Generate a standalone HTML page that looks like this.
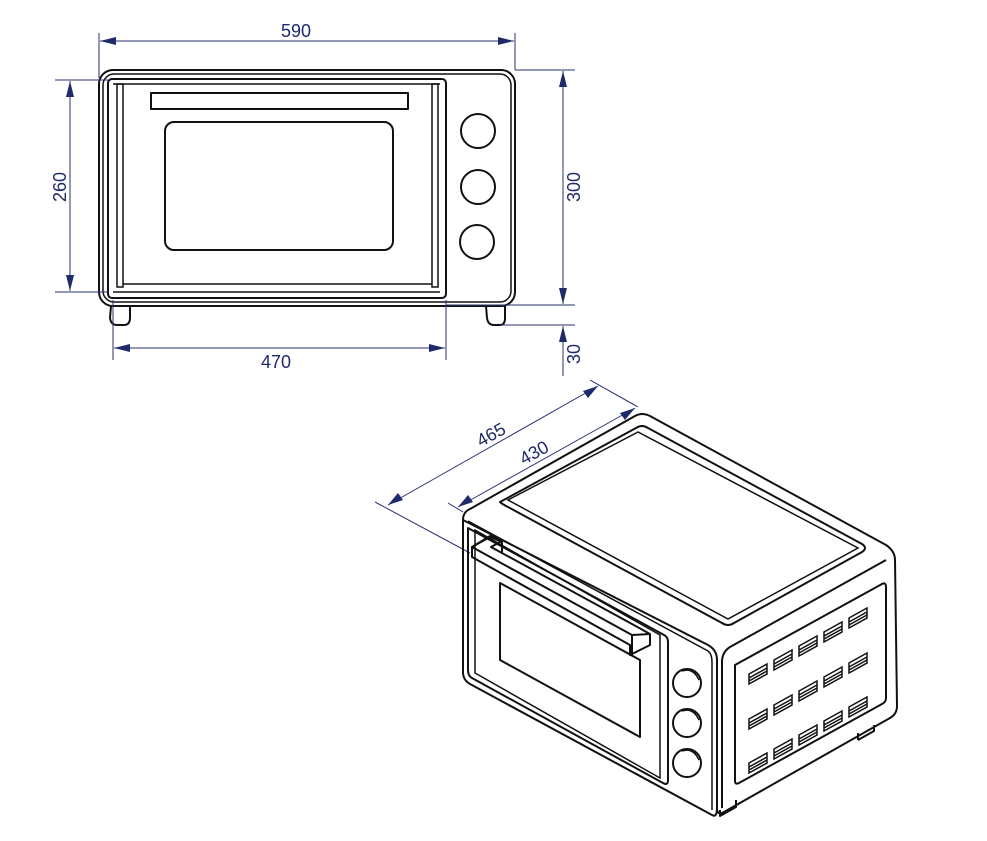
<!DOCTYPE html>
<html><head><meta charset="utf-8"><style>
html,body{margin:0;padding:0;background:#fff;}
svg{display:block;}
text{font-family:"Liberation Sans",sans-serif;font-size:18px;fill:#1f2a6b;}
.k{fill:none;stroke:#111;stroke-width:2;stroke-linejoin:round;}
.t{fill:none;stroke:#111;stroke-width:1.5;}
.d{fill:none;stroke:#2a3270;stroke-width:1;}
.a{fill:#1f2a6b;}
</style></head><body>
<svg width="987" height="841" viewBox="0 0 987 841" xmlns="http://www.w3.org/2000/svg">
<defs>
<g id="v" class="t"><path d="M0 10 L18 0 L18 10 L0 20 Z M0 14 L18 4 M0 17 L18 7"/></g>
</defs>
<!-- FRONT VIEW -->
<rect class="k" x="99" y="70" width="416" height="236" rx="14"/>
<rect class="t" x="103" y="74" width="408" height="228" rx="11"/>
<rect class="k" x="108" y="79" width="338" height="219" rx="4"/>
<line class="t" x1="113" y1="84" x2="440" y2="84"/>
<line class="t" x1="113" y1="292" x2="440" y2="292"/>
<rect class="t" x="117" y="84" width="6" height="203"/>
<rect class="t" x="432" y="84" width="6" height="203"/>
<line class="t" x1="123" y1="284" x2="432" y2="284"/>
<rect class="k" x="151" y="93" width="257" height="16"/>
<rect class="k" x="165" y="122" width="228" height="128" rx="9"/>
<circle class="k" cx="478" cy="131" r="17"/>
<circle class="k" cx="478" cy="187" r="17"/>
<circle class="k" cx="477" cy="242" r="17"/>
<path class="k" d="M111 306 L110 318 Q111 325 117 325 L124 325 Q130 325 130 318 L130 306"/>
<path class="k" d="M486 306 L487 318 Q488 325 494 325 L500 325 Q505 325 505 318 L505 306"/>
<!-- dims front -->
<line class="d" x1="99" y1="33" x2="99" y2="78"/>
<line class="d" x1="515" y1="33" x2="515" y2="70"/>
<line class="d" x1="100" y1="41" x2="514" y2="41"/>
<polygon class="a" points="100,41 116,37 116,45"/>
<polygon class="a" points="514,41 498,37 498,45"/>
<text x="296" y="37" text-anchor="middle">590</text>
<line class="d" x1="55" y1="80" x2="108" y2="80"/>
<line class="d" x1="55" y1="292" x2="108" y2="292"/>
<line class="d" x1="70" y1="81" x2="70" y2="291"/>
<polygon class="a" points="70,81 66,97 74,97"/>
<polygon class="a" points="70,291 66,275 74,275"/>
<text transform="translate(66,187) rotate(-90)" text-anchor="middle">260</text>
<line class="d" x1="515" y1="70" x2="575" y2="70"/>
<line class="d" x1="446" y1="305" x2="575" y2="305"/>
<line class="d" x1="500" y1="325" x2="575" y2="325"/>
<line class="d" x1="563" y1="71" x2="563" y2="304"/>
<polygon class="a" points="563,71 559,87 567,87"/>
<polygon class="a" points="563,304 559,288 567,288"/>
<text transform="translate(580,187) rotate(-90)" text-anchor="middle">300</text>
<line class="d" x1="563" y1="326" x2="563" y2="376"/>
<polygon class="a" points="563,326 559,342 567,342"/>
<text transform="translate(580,354) rotate(-90)" text-anchor="middle">30</text>
<line class="d" x1="113" y1="300" x2="113" y2="360"/>
<line class="d" x1="446" y1="300" x2="446" y2="360"/>
<line class="d" x1="114" y1="348" x2="445" y2="348"/>
<polygon class="a" points="114,348 130,344 130,352"/>
<polygon class="a" points="445,348 429,344 429,352"/>
<text x="276" y="368" text-anchor="middle">470</text>
<!-- ISOMETRIC dims -->
<line class="d" x1="375" y1="502" x2="470" y2="553"/>
<line class="d" x1="590" y1="380" x2="638" y2="407"/>
<line class="d" x1="448" y1="503" x2="463" y2="512"/>
<line class="d" x1="388" y1="505" x2="598" y2="386"/>
<polygon class="a" points="388,505 398,493 403,500"/>
<polygon class="a" points="598,386 583,391 588,398"/>
<line class="d" x1="458" y1="507" x2="635" y2="408"/>
<polygon class="a" points="458,507 468,495 473,502"/>
<polygon class="a" points="635,408 620,413 625,420"/>
<text transform="translate(494,440) rotate(-29)" text-anchor="middle">465</text>
<text transform="translate(537,458) rotate(-29)" text-anchor="middle">430</text>
<!-- body outline -->
<path class="k" d="M463 520 Q463 512 470 509 L635 416 Q642 412 650 416 L886 545 Q895 551 895 560 L897 706 Q897 714 890 718 L724 812 Q717 816 717 808 L717 660 Q717 650 708 645 Z"/>
<path class="k" d="M463 520 L463 672 Q463 680 470 684 L712 815 Q717 818 717 808"/>
<path class="t" d="M468 521 L708 651 Q712 654 712 662 L712 810"/>
<path class="k" d="M722 808 L722 662 Q722 652 730 647 L886 560"/>
<!-- top recess -->
<path class="k" d="M500 502 L636 428 Q642 424 648 428 L862 544 Q868 548 862 552 L734 623 Q728 627 722 623 L508 507 Q502 504 500 502 Z"/>
<path class="t" d="M508 500 L638 432 L858 548 L728 619 Z"/>
<!-- door -->
<path class="k" d="M468 528 L664 635 Q668 637 668 642 L668 780 Q668 786 663 783 L472 678 Q468 676 468 670 Z"/>
<path class="t" d="M475 530 L660 635 L660 778 L475 673 Z"/>
<path class="k" d="M500 583 L640 660 L640 737 L500 660 Z"/>
<!-- handle -->
<path class="k" d="M472 547 L472 557 L630 645 L630 655 L650 645 L650 634 L632 624 L491 547 L502 541 L490 536 Z" />
<path class="k" d="M472 547 L490 537 L502 542 L502 554 M472 547 L632 635 L632 655 M632 635 L650 634"/>
<!-- knobs -->
<circle class="k" cx="687" cy="683" r="14"/><path class="t" d="M682 671 Q693 667 699 680"/>
<circle class="k" cx="687" cy="723" r="14"/><path class="t" d="M682 711 Q693 707 699 720"/>
<circle class="k" cx="687" cy="763" r="14"/><path class="t" d="M682 751 Q693 747 699 760"/>
<!-- side panel -->
<path class="k" d="M735 665 L882 584 Q886 582 886 587 L886 698 Q886 702 882 704 L739 783 Q735 785 735 781 Z"/>
<path class="k" d="M720 810 L720 816 L736 807 L736 800"/>
<path class="k" d="M858 740 L858 733 M858 740 L874 731 L874 725"/>
<!-- vents -->
<use href="#v" x="749" y="664"/><use href="#v" x="774" y="650"/><use href="#v" x="799" y="636"/><use href="#v" x="824" y="622"/><use href="#v" x="849" y="608"/>
<use href="#v" x="749" y="709"/><use href="#v" x="774" y="695"/><use href="#v" x="799" y="681"/><use href="#v" x="824" y="667"/><use href="#v" x="849" y="653"/>
<use href="#v" x="749" y="753"/><use href="#v" x="774" y="739"/><use href="#v" x="799" y="725"/><use href="#v" x="824" y="711"/><use href="#v" x="849" y="697"/>
</svg>
</body></html>
